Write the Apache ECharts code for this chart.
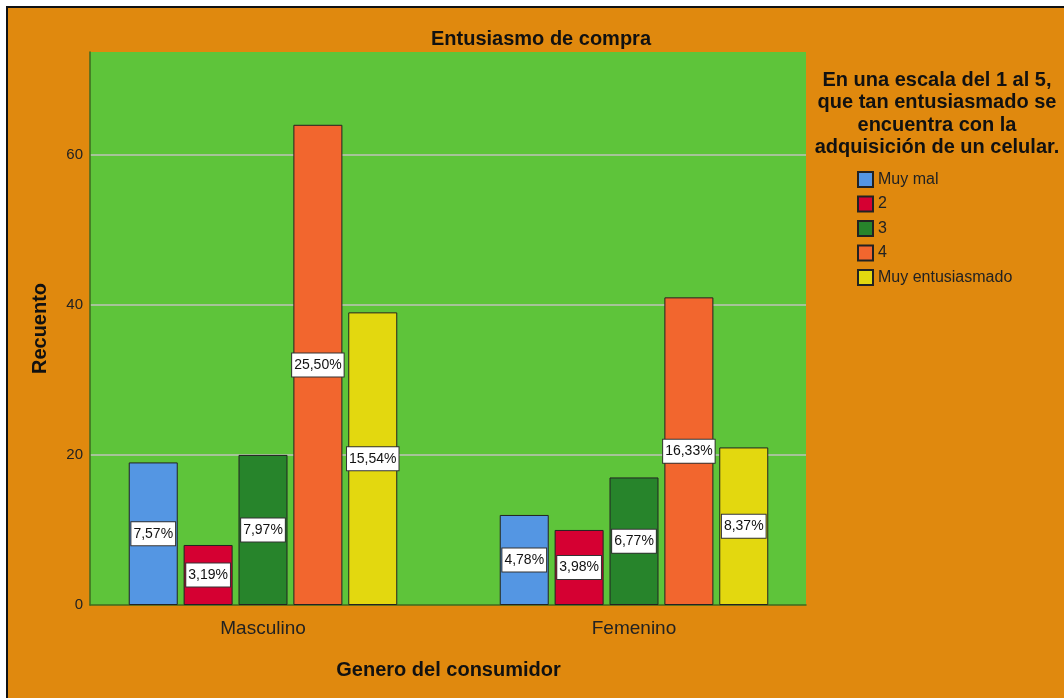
<!DOCTYPE html>
<html>
<head>
<meta charset="utf-8">
<script src="https://cdn.jsdelivr.net/npm/echarts@6/dist/echarts.min.js"></script>
<style>
  html, body { margin: 0; padding: 0; background: #fff; }
  #main { width: 1064px; height: 698px; }
</style>
</head>
<body>
<div id="main"></div>
<script>
// datos
const categories = ['Masculino', 'Femenino'];
const seriesNames = ['Muy mal', '2', '3', '4', 'Muy entusiasmado'];
const muyMal = [19, 12];
const dos = [8, 10];
const tres = [20, 17];
const cuatro = [64, 41];
const muyEntusiasmado = [39, 21];
const percents = [
  ['7,57%', '4,78%'],
  ['3,19%', '3,98%'],
  ['7,97%', '6,77%'],
  ['25,50%', '16,33%'],
  ['15,54%', '8,37%']
];
const yTicks = [0, 20, 40, 60];
const colors = ['#5496E3', '#D50032', '#27842B', '#F2662E', '#E3D80F'];

const allValues = [muyMal, dos, tres, cuatro, muyEntusiasmado];
const yMax = 73.7;

let chart = echarts.init(document.getElementById('main'));

let series = allValues.map((vals, i) => ({
  name: seriesNames[i],
  type: 'bar',
  xAxisIndex: 1,
  yAxisIndex: 1,
  barWidth: 49,
  barGap: '12%',
  data: vals,
  itemStyle: {
    color: colors[i],
    borderColor: '#222',
    borderWidth: 1
  },
  label: {
    show: true,
    position: 'inside',
    formatter: p => percents[i][p.dataIndex],
    backgroundColor: '#fff',
    borderColor: '#333',
    borderWidth: 1,
    padding: [5, 2, 4, 2],
    color: '#111',
    fontFamily: 'Liberation Sans',
    fontSize: 14
  }
}));

let option = {
  backgroundColor: '#E0890E',
  animation: false,
  color: colors,
  textStyle: { fontFamily: 'Liberation Sans' },
  title: [
    {
      text: 'Entusiasmo de compra',
      left: 536,
      top: 24,
      textAlign: 'center',
      textStyle: { fontSize: 20, fontWeight: 'bold', color: '#111', fontFamily: 'Liberation Sans' }
    },
    {
      text: 'En una escala del 1 al 5,\nque tan entusiasmado se\nencuentra con la\nadquisición de un celular.',
      left: 932,
      top: 64,
      textAlign: 'center',
      textStyle: { fontSize: 20, fontWeight: 'bold', color: '#111', lineHeight: 22.5, fontFamily: 'Liberation Sans' }
    }
  ],
  legend: {
    orient: 'vertical',
    left: 857,
    top: 171,
    padding: 0,
    itemWidth: 15,
    itemHeight: 15,
    itemGap: 7.5,
    icon: 'rect',
    data: seriesNames,
    textStyle: { fontSize: 16, color: '#222', fontFamily: 'Liberation Sans' }
  },
  grid: [
    // marco verde
    { left: 90, top: 52, width: 716, height: 553, show: true, backgroundColor: '#5EC43A', borderWidth: 0 },
    // barras
    { left: 77.5, top: 52, width: 742, height: 553 }
  ],
  xAxis: [
    {
      gridIndex: 0,
      type: 'value',
      min: 0,
      max: 1,
      axisLine: { show: true, lineStyle: { color: '#3E6A1F', width: 1.5 } },
      axisTick: { show: false },
      axisLabel: { show: false },
      splitLine: { show: false }
    },
    {
      gridIndex: 1,
      type: 'category',
      data: categories,
      axisLine: { show: false },
      axisTick: { show: false },
      axisLabel: { fontSize: 19, color: '#222', margin: 14, fontFamily: 'Liberation Sans' },
      name: 'Genero del consumidor',
      nameLocation: 'middle',
      nameGap: 55,
      nameTextStyle: { fontSize: 20, fontWeight: 'bold', color: '#111', fontFamily: 'Liberation Sans' }
    }
  ],
  yAxis: [
    {
      gridIndex: 0,
      type: 'value',
      min: 0,
      max: yMax,
      interval: 20,
      axisLine: { show: true, lineStyle: { color: '#3E6A1F', width: 1.5 } },
      axisTick: { show: false },
      axisLabel: {
        fontSize: 15,
        color: '#222',
        margin: 7,
        showMaxLabel: false,
        formatter: v => (yTicks.indexOf(v) >= 0 ? String(v) : '')
      },
      splitLine: { show: true, showMinLine: false, showMaxLine: false, lineStyle: { color: '#BFC3BA', width: 1.5 } },
      name: 'Recuento',
      nameLocation: 'middle',
      nameGap: 40,
      nameTextStyle: { fontSize: 20, fontWeight: 'bold', color: '#111', fontFamily: 'Liberation Sans' }
    },
    {
      gridIndex: 1,
      type: 'value',
      min: 0,
      max: yMax,
      show: false
    }
  ],
  graphic: [
    { type: 'rect', shape: { x: 0, y: 0, width: 1064, height: 6 }, style: { fill: '#fff' } },
    { type: 'rect', shape: { x: 0, y: 0, width: 6, height: 698 }, style: { fill: '#fff' } },
    { type: 'polyline', shape: { points: [[7, 698], [7, 7], [1064, 7]] }, style: { stroke: '#111', lineWidth: 2, fill: null } }
  ],
  series: series
};

chart.setOption(option);
</script>
</body>
</html>
